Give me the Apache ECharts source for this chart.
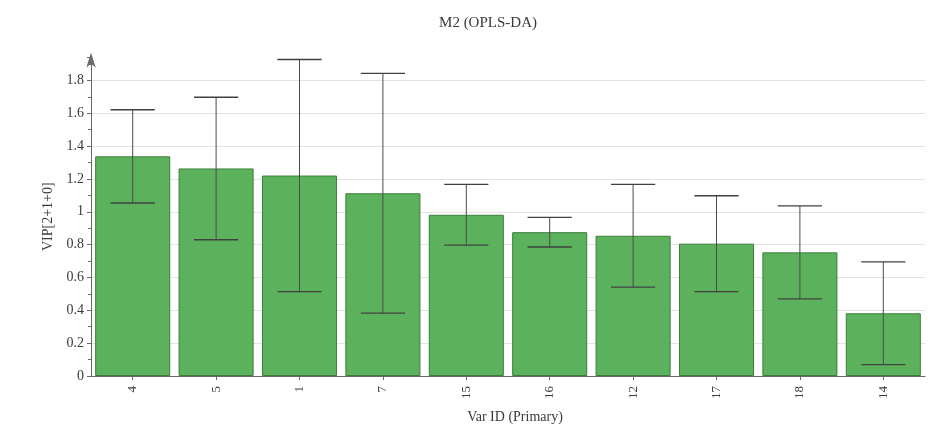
<!DOCTYPE html>
<html>
<head>
<meta charset="utf-8">
<script src="https://cdn.jsdelivr.net/npm/echarts@6/dist/echarts.min.js"></script>
<style>
  html, body { margin: 0; padding: 0; background: #ffffff; }
  #chart { width: 945px; height: 429px; }
</style>
</head>
<body>
<div id="chart"></div>
<script>
// Variable IDs, in descending VIP order
const varIds = ['4', '5', '1', '7', '15', '16', '12', '17', '18', '14'];
// VIP[2+1+0] values
const vip = [1.338, 1.264, 1.221, 1.113, 0.982, 0.876, 0.854, 0.806, 0.753, 0.382];
// Half-width of the confidence interval for each VIP value
const ciHalf = [0.284, 0.434, 0.707, 0.730, 0.185, 0.090, 0.313, 0.292, 0.283, 0.313];
// Y-axis tick step and upper end of the axis
const yStep = 0.2;
const yMax = 1.94;

const serif = '"Liberation Serif", "DejaVu Serif", serif';
const textColor = '#3a3a3a';
const axisColor = '#6a6a6a';

const errorData = vip.map((v, i) => [i, v - ciHalf[i], v + ciHalf[i]]);

// Split lines at 0, 0.2 … 1.8 plus the axis end, which stays hidden
const splitColors = [];
for (let v = 0; v <= 1.8 + 1e-9; v += yStep) splitColors.push('#e3e3e3');
splitColors.push('rgba(0,0,0,0)');

const chart = echarts.init(document.getElementById('chart'), null, { renderer: 'canvas' });

chart.setOption({
  backgroundColor: '#ffffff',
  animation: false,
  title: {
    text: 'M2 (OPLS-DA)',
    left: 483,
    top: 11,
    textAlign: 'center',
    textStyle: { fontFamily: serif, fontSize: 15, fontWeight: 'normal', color: textColor }
  },
  grid: { left: 91, right: 20, top: 383 - yMax * 167.8, bottom: 46, containLabel: false },
  xAxis: {
    type: 'category',
    data: varIds,
    name: 'Var ID (Primary)',
    nameLocation: 'middle',
    nameGap: 34,
    nameTextStyle: { fontFamily: serif, fontSize: 14, color: textColor, padding: [0, 0, 0, 14] },
    axisLine: { show: true, lineStyle: { color: axisColor, width: 1 } },
    axisTick: { show: true, alignWithLabel: true, length: 4, lineStyle: { color: axisColor } },
    axisLabel: {
      rotate: 90,
      margin: 10,
      fontFamily: serif,
      fontSize: 13,
      color: textColor
    },
    splitLine: { show: false }
  },
  yAxis: {
    type: 'value',
    min: 0,
    max: yMax,
    interval: yStep,
    name: 'VIP[2+1+0]',
    nameLocation: 'middle',
    nameRotate: 90,
    nameGap: 36,
    nameTextStyle: { fontFamily: serif, fontSize: 14, color: textColor },
    axisLine: {
      show: true,
      symbol: ['none', 'arrow'],
      symbolSize: [7, 15],
      symbolOffset: [0, 5],
      lineStyle: { color: axisColor, width: 1 }
    },
    axisTick: { show: true, length: 4, lineStyle: { color: axisColor } },
    minorTick: { show: true, splitNumber: 2, length: 3, lineStyle: { color: axisColor } },
    axisLabel: {
      margin: 7,
      fontFamily: serif,
      fontSize: 14,
      color: textColor,
      showMaxLabel: false
    },
    splitLine: { show: true, lineStyle: { color: splitColors, width: 1 } }
  },
  series: [
    {
      type: 'bar',
      data: vip,
      barCategoryGap: '10%',
      itemStyle: { color: '#5cb25c', borderColor: '#3e7d3e', borderWidth: 1 },
      z: 2
    },
    {
      type: 'custom',
      data: errorData,
      z: 3,
      renderItem: function (params, api) {
        const idx = api.value(0);
        const lo = api.coord([idx, api.value(1)]);
        const hi = api.coord([idx, api.value(2)]);
        const capHalf = api.size([1, 0])[0] * 0.265;
        const lineStyle = { stroke: '#4a4a4a', lineWidth: 1 };
        const capStyle = { stroke: '#404040', lineWidth: 1.4 };
        return {
          type: 'group',
          children: [
            { type: 'line', shape: { x1: hi[0], y1: hi[1], x2: lo[0], y2: lo[1] }, style: lineStyle },
            { type: 'line', shape: { x1: hi[0] - capHalf, y1: hi[1], x2: hi[0] + capHalf, y2: hi[1] }, style: capStyle },
            { type: 'line', shape: { x1: lo[0] - capHalf, y1: lo[1], x2: lo[0] + capHalf, y2: lo[1] }, style: capStyle }
          ]
        };
      }
    }
  ]
});
</script>
</body>
</html>
